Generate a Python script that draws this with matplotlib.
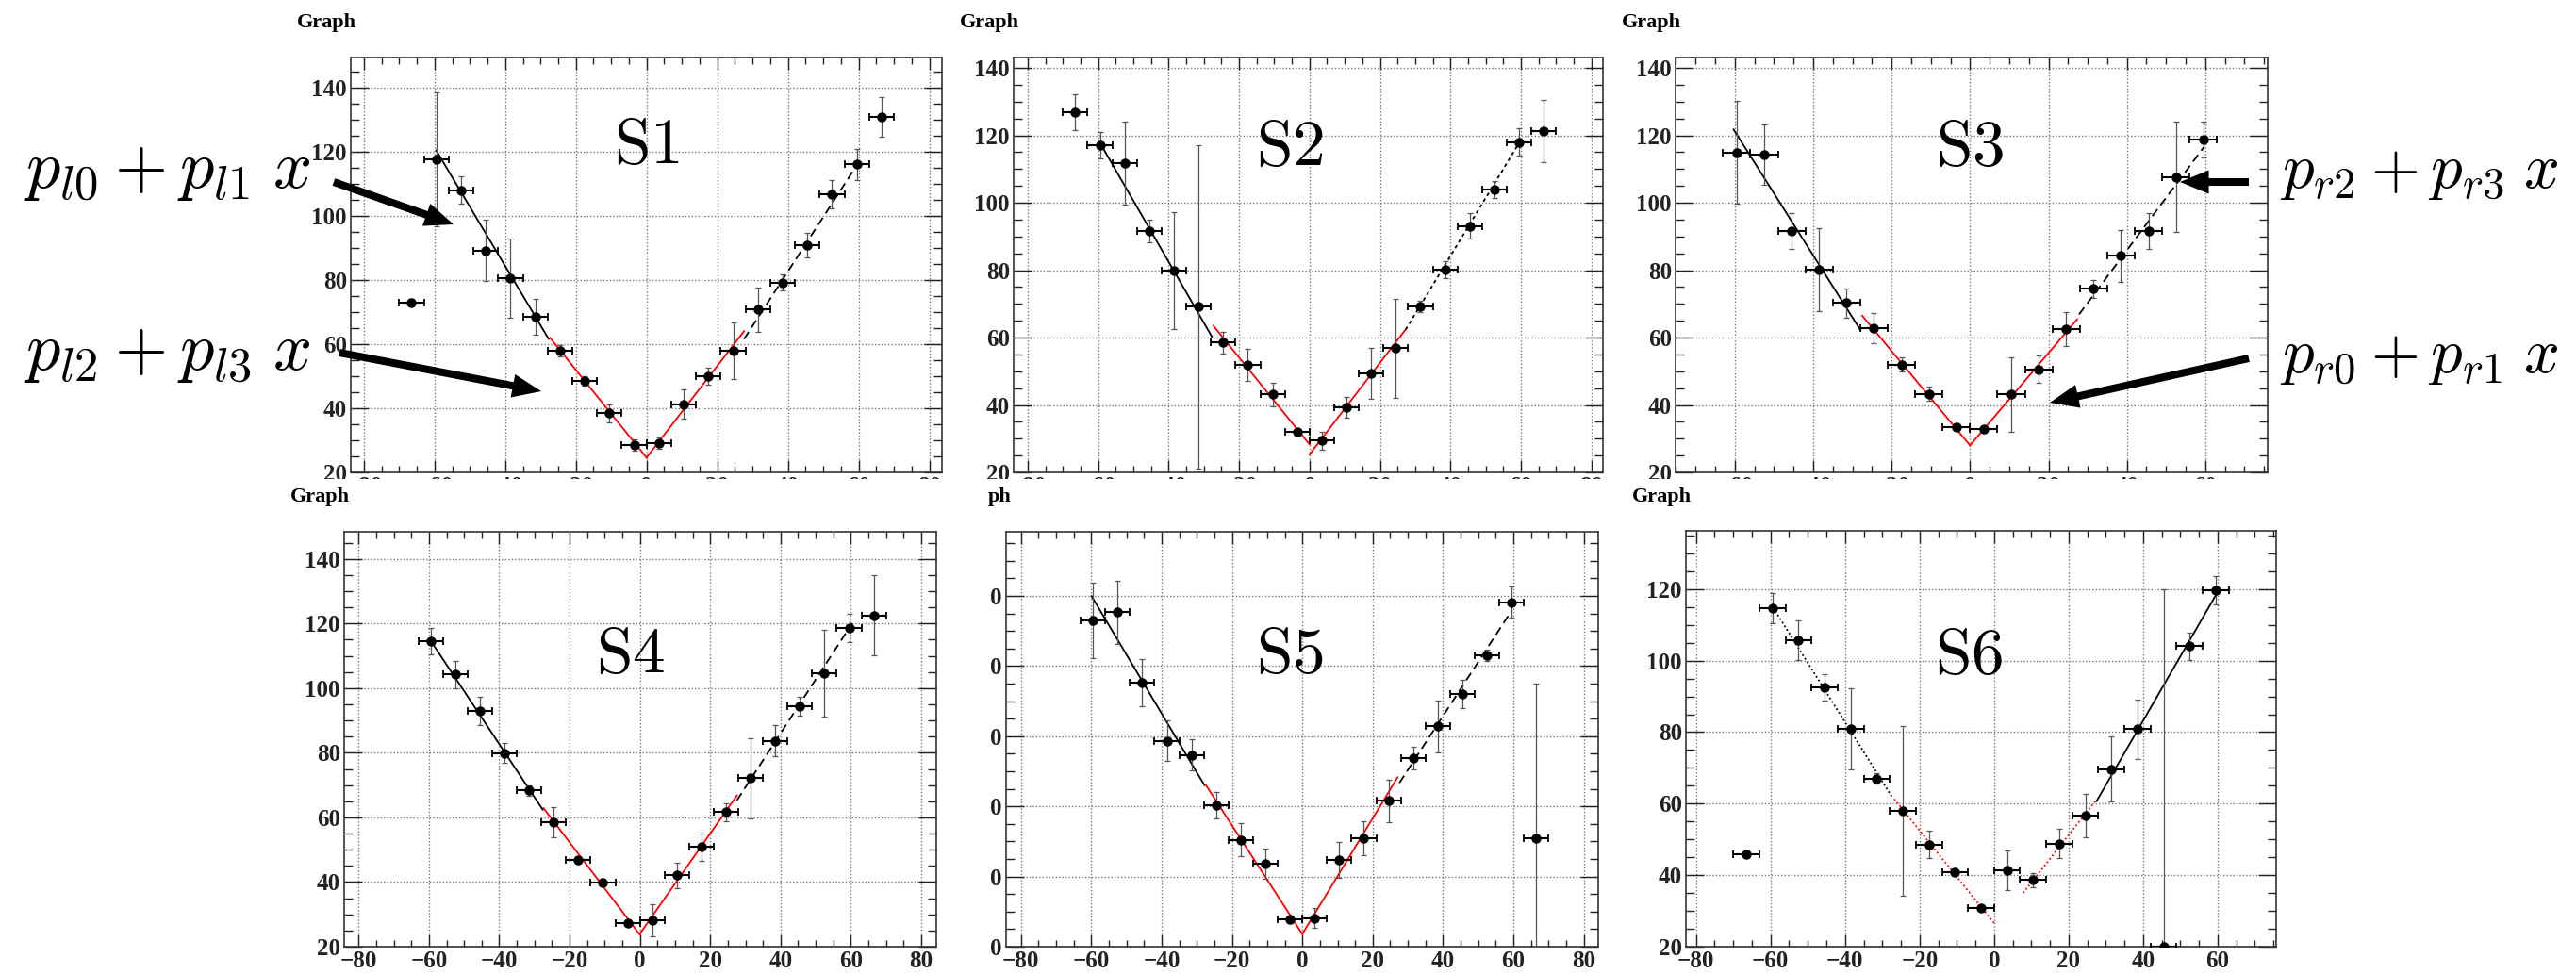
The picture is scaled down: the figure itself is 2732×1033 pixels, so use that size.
import numpy as np
import matplotlib.pyplot as plt
from matplotlib.patches import Rectangle, FancyArrowPatch
from matplotlib.ticker import MultipleLocator, FuncFormatter

plt.rcParams['font.family'] = ['Liberation Serif', 'DejaVu Serif']
plt.rcParams['font.weight'] = 'bold'
plt.rcParams['mathtext.fontset'] = 'cm'

W, H = 2732, 1033

# bin centres, half bin width = x error
x_all = [-66.5, -59.5, -52.5, -45.5, -38.5, -31.5, -24.5, -17.5, -10.5, -3.5,
         3.5, 10.5, 17.5, 24.5, 31.5, 38.5, 45.5, 52.5, 59.5, 66.5]
x_err = 3.5

# S1
s1_x = x_all
s1_y = [73.1, 117.7, 108.1, 89.3, 80.7, 68.5, 57.9, 48.6, 38.5, 28.6,
        29.1, 41.3, 50.0, 57.9, 70.8, 79.2, 90.9, 106.8, 116.1, 130.9]
s1_ey = [1.0, 21.0, 4.3, 9.5, 12.3, 5.6, 1.8, 1.4, 2.8, 1.7,
         1.8, 4.6, 2.7, 8.9, 6.9, 2.5, 3.8, 4.3, 4.8, 6.2]
s1_fit_x = [(-59.5, -27.7), (-27.3, 0.0), (0.0, 27.6), (27.6, 59.6)]
s1_fit_p = [(10.4, -1.85), (24.6, -1.37), (24.6, 1.43), (14.7, 1.70)]

# S2
s2_x = x_all
s2_y = [126.8, 117.1, 111.7, 91.6, 79.8, 69.2, 58.5, 51.8, 43.1, 31.9,
        29.4, 39.3, 49.4, 56.8, 69.2, 80.2, 93.1, 103.9, 118.0, 121.2]
s2_ey = [5.3, 3.9, 12.3, 3.3, 17.3, 48.0, 3.3, 4.8, 3.6, 1.1,
         2.7, 3.2, 7.6, 14.7, 1.6, 2.6, 3.7, 2.6, 4.1, 9.2]
s2_fit_x = [(-59.5, -27.7), (-27.3, 0.0), (0.0, 27.3), (27.3, 59.8)]
s2_fit_p = [(10.1, -1.81), (28.3, -1.29), (25.3, 1.36), (15.4, 1.72)]

# S3
s3_x = x_all[1:-1]
s3_y = [114.9, 114.2, 91.6, 80.2, 70.3, 62.9, 52.0, 43.3, 33.5,
        32.8, 43.1, 50.6, 62.6, 74.5, 84.3, 91.5, 107.7, 118.8]
s3_ey = [15.2, 9.0, 5.4, 12.3, 4.3, 4.5, 2.1, 2.1, 1.0,
         1.0, 11.0, 4.1, 5.1, 2.7, 7.7, 5.3, 16.4, 5.3]
s3_fit_x = [(-60.3, -27.9), (-27.5, 0.0), (0.0, 27.3), (27.8, 59.7)]
s3_fit_p = [(10.8, -1.84), (28.0, -1.40), (28.0, 1.37), (23.5, 1.56)]

# S4
s4_x = x_all[1:]
s4_y = [114.5, 104.2, 92.9, 79.9, 68.4, 58.5, 46.8, 39.9, 27.4,
        28.1, 42.1, 50.9, 61.6, 72.1, 83.7, 94.4, 104.6, 118.7, 122.5]
s4_ey = [4.0, 4.1, 4.3, 3.1, 1.6, 4.7, 1.0, 1.0, 1.0,
         4.9, 4.0, 4.2, 2.9, 12.4, 4.8, 2.8, 13.4, 4.4, 12.4]
s4_fit_x = [(-59.5, -27.6), (-27.4, 0.0), (0.0, 27.6), (27.6, 60.4)]
s4_fit_p = [(17.1, -1.64), (23.7, -1.43), (24.0, 1.55), (19.2, 1.67)]

# S5
s5_x = x_all[1:]
s5_y = [113.0, 115.4, 95.2, 78.7, 74.7, 60.3, 50.5, 43.6, 27.7,
        28.2, 44.7, 51.0, 61.6, 73.8, 82.8, 92.1, 103.1, 118.2, 51.0]
s5_ey = [10.7, 9.0, 6.7, 5.7, 4.4, 3.7, 4.6, 4.3, 1.0,
         2.7, 5.1, 4.8, 6.0, 3.3, 7.5, 4.0, 1.6, 4.4, 43.9]
s5_fit_x = [(-59.9, -27.8), (-27.4, 0.0), (0.0, 27.1), (27.6, 59.6)]
s5_fit_p = [(19.3, -1.68), (23.6, -1.55), (23.6, 1.65), (24.2, 1.54)]

# S6
s6_x = x_all[:-1]
s6_y = [45.9, 114.7, 105.7, 92.5, 80.9, 67.0, 58.0, 48.6, 40.9, 30.8,
        41.4, 38.7, 48.8, 56.7, 69.7, 80.9, 20.0, 104.0, 119.6]
s6_ey = [0.5, 4.2, 5.5, 3.8, 11.3, 1.5, 23.8, 3.8, 1.0, 0.8,
         5.5, 2.0, 4.1, 6.1, 9.1, 8.3, 100.0, 3.8, 4.0]
s6_fit_x = [(-59.3, -27.2), (-26.8, 0.0), (7.8, 27.5), (27.5, 60.0)]
s6_fit_p = [(16.4, -1.66), (26.6, -1.295), (24.7, 1.325), (11.2, 1.80)]

fit_colors = ['black', 'red', 'red', 'black']
DASH = (0, (5, 3))
DOT = (0, (1, 1.5))

fig = plt.figure(figsize=(W / 100, H / 100), dpi=100)


def rect(x0, x1, y0, y1):
    # pixel box, origin top-left -> figure fraction
    return [x0 / W, 1 - y1 / H, (x1 - x0) / W, (y1 - y0) / H]


def fpos(x, y):
    return (x / W, 1 - y / H)


def panel(box, tag, label, x, y, ey, fx, fp, styles, xlim, ylim, label_xy, zero_labels=False):
    ax = fig.add_axes(rect(*box))
    ax.set_xlim(*xlim)
    ax.set_ylim(*ylim)
    ax.xaxis.set_major_locator(MultipleLocator(20))
    ax.xaxis.set_minor_locator(MultipleLocator(5))
    ax.yaxis.set_major_locator(MultipleLocator(20))
    ax.yaxis.set_minor_locator(MultipleLocator(5))
    if zero_labels:
        ax.yaxis.set_major_formatter(FuncFormatter(lambda v, p: '0'))
    ax.grid(True, which='major', color='#777777', ls=DOT, lw=1.0, zorder=0)
    ax.set_axisbelow(True)
    ax.tick_params(which='both', direction='in', top=True, right=True,
                   colors='#222222', width=1.0, labelsize=18, pad=3)
    ax.tick_params(axis='y', which='major', length=13.7)
    ax.tick_params(axis='y', which='minor', length=6.8)
    ax.tick_params(axis='x', which='major', length=9.5)
    ax.tick_params(axis='x', which='minor', length=4.7)
    for s in ax.spines.values():
        s.set_color('#333333')
        s.set_linewidth(1.2)

    # fitted straight-line pieces
    for (a, b), (p0, p1), c, ls in zip(fx, fp, fit_colors, styles):
        xs = np.array([a, b])
        ax.plot(xs, p0 + p1 * xs, color=c, ls=ls, lw=1.3, zorder=2)

    ax.errorbar(x, y, yerr=ey, fmt='none', ecolor='#555555', elinewidth=0.9,
                capsize=2.5, capthick=0.9, zorder=3)
    ax.errorbar(x, y, xerr=x_err, fmt='none', ecolor='black', elinewidth=1.5,
                capsize=3, capthick=1.3, zorder=3)
    ax.plot(x, y, 'o', color='black', ms=6.5, zorder=4)

    ax.text(label_xy[0], label_xy[1], r'$\mathrm{%s}$' % label, fontsize=50,
            ha='center', va='center', zorder=5)

    # small title tag left of the frame
    base = 29 if box[2] < 300 else 532
    fig.text((box[0] + 6) / W, 1 - base / H, tag, fontsize=16, ha='right',
             va='baseline', zorder=7)
    return ax


panel((372, 999, 61, 501), 'Graph', 'S1', s1_x, s1_y, s1_ey, s1_fit_x, s1_fit_p,
      ['-', '-', '-', DASH], (-83.7, 83.6), (20, 149.5), (0, 121.5))
panel((1075, 1700, 61, 501), 'Graph', 'S2', s2_x, s2_y, s2_ey, s2_fit_x, s2_fit_p,
      ['-', '-', '-', (0, (2, 2))], (-84.0, 83.3), (20, 143.1), (-5.6, 116))
panel((1777, 2405, 61, 501), 'Graph', 'S3', s3_x, s3_y, s3_ey, s3_fit_x, s3_fit_p,
      ['-', '-', '-', DASH], (-75.1, 75.9), (20, 143.1), (0, 116))
panel((365, 993, 564, 1004), 'Graph', 'S4', s4_x, s4_y, s4_ey, s4_fit_x, s4_fit_p,
      ['-', '-', '-', DASH], (-84.1, 84.3), (20, 148.4), (-2.8, 110))
panel((1067, 1695, 564, 1004), 'ph', 'S5', s5_x, s5_y, s5_ey, s5_fit_x, s5_fit_p,
      ['-', '-', '-', DASH], (-84.2, 84.1), (20, 138.3), (-3.5, 102.8), zero_labels=True)
panel((1788, 2414, 563, 1004), 'Graph', 'S6', s6_x, s6_y, s6_ey, s6_fit_x, s6_fit_p,
      [DOT, DOT, DOT, '-'], (-82.7, 75.7), (20, 136.3), (-6.8, 101))

# the upper row's x labels are cut off under the lower row
fig.add_artist(Rectangle((0, 1 - 560 / H), 1, (560 - 508) / H, transform=fig.transFigure,
                         fc='white', ec='none', zorder=5))

# parameter annotations with arrows
fig.text(*fpos(25, 199), r'$p_{l0} + p_{l1}\;x$', fontsize=52, ha='left', va='baseline')
fig.text(*fpos(25, 392), r'$p_{l2} + p_{l3}\;x$', fontsize=52, ha='left', va='baseline')
fig.text(*fpos(2418, 199), r'$p_{r2} + p_{r3}\;x$', fontsize=48, ha='left', va='baseline')
fig.text(*fpos(2418, 395), r'$p_{r0} + p_{r1}\;x$', fontsize=48, ha='left', va='baseline')

arrows = [((354, 193), (481, 238)), ((360, 374), (574, 415)),
          ((2385, 193), (2312, 193)), ((2385, 380), (2174, 427))]
for a, b in arrows:
    fig.add_artist(FancyArrowPatch(fpos(*a), fpos(*b), transform=fig.transFigure,
                                   arrowstyle='simple,head_length=22,head_width=18,tail_width=5.8',
                                   mutation_scale=1, shrinkA=0, shrinkB=0,
                                   fc='black', ec='none', zorder=8))

fig.savefig('out.png', dpi=100)
